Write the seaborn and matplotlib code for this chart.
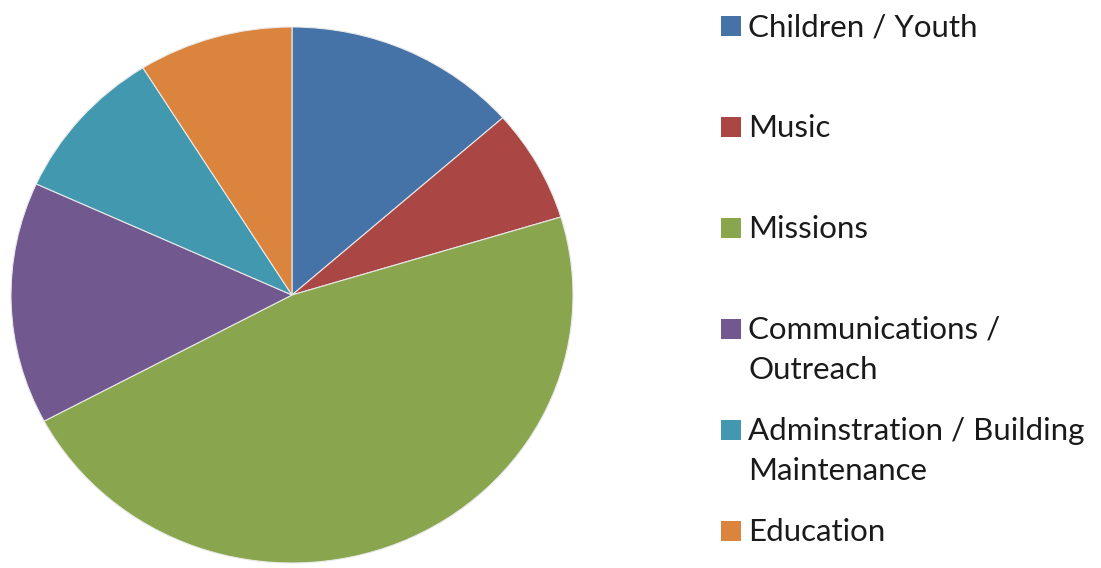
import matplotlib
matplotlib.use("Agg")
import matplotlib.pyplot as plt
from matplotlib.patches import Rectangle
import seaborn as sns

# Budget share by ministry area (percent)
categories = [
    "Children / Youth",
    "Music",
    "Missions",
    "Communications /\nOutreach",
    "Adminstration / Building\nMaintenance",
    "Education",
]
shares = [13.5, 6.8, 46.9, 14.6, 9.3, 8.9]
colors = ["#4572A7", "#AA4643", "#89A54E", "#71588F", "#4198AF", "#DB843D"]

sns.set_theme(style="white")
plt.rcParams["font.family"] = ["Lato", "DejaVu Sans"]
palette = sns.color_palette(colors)

W, H = 1101, 568
fig = plt.figure(figsize=(W / 100, H / 100), dpi=100)
fig.patch.set_facecolor("white")

# pie area (slightly wider than tall)
ax = fig.add_axes([11 / W, (H - 563) / H, 562 / W, 536 / H])
ax.pie(
    shares,
    colors=palette,
    startangle=90,
    counterclock=False,
    radius=1.0,
    wedgeprops=dict(edgecolor="#e8e8e8", linewidth=0.8),
)
ax.set_aspect("auto")
ax.set_xlim(-1, 1)
ax.set_ylim(-1, 1)
ax.axis("off")

# legend: square swatch aligned with first line, extra lines below
x_box, x_text = 721, 748
baseline0, row_step, line_step = 36, 101, 40
box = 20
for i, (label, c) in enumerate(zip(categories, palette)):
    base = baseline0 + i * row_step
    fig.add_artist(Rectangle((x_box / W, (H - base) / H), box / W, box / H,
                             transform=fig.transFigure, facecolor=c,
                             edgecolor="none"))
    for j, line in enumerate(label.split("\n")):
        y = base + j * line_step
        fig.text(x_text / W, (H - y) / H, line, ha="left", va="baseline",
                 fontsize=22.5, color="#1a1a1a")

fig.savefig("out.png", dpi=100, facecolor="white")
